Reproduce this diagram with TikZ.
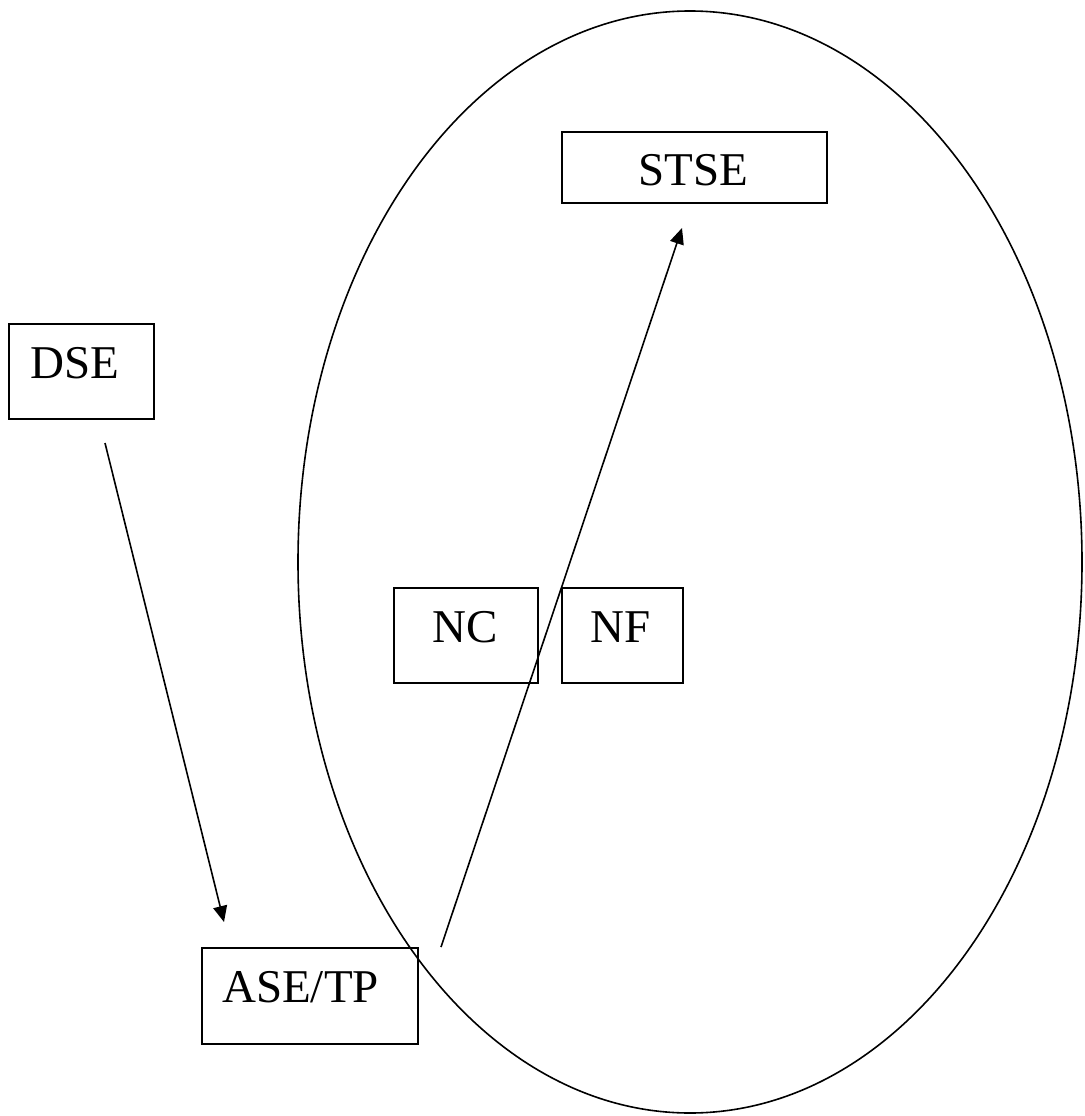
\documentclass[tikz,border=0pt]{standalone}
\usepackage{fontspec}
\setmainfont{Liberation Serif}
\usetikzlibrary{arrows.meta}
\tikzset{
  box/.style={draw, line width=2.2pt, rectangle, inner sep=0pt, anchor=north west},
  lbl/.style={inner sep=0pt, anchor=base west, font=\fontsize{47}{56}\selectfont},
  clbl/.style={inner sep=0pt, anchor=base, font=\fontsize{47}{56}\selectfont},
  conn/.style={line width=1.6pt, -{Triangle[length=16pt,width=14pt]}},
  oval/.style={line width=1.6pt}
}
\begin{document}
\begin{tikzpicture}[x=1pt,y=-1pt]
\useasboundingbox (0,0) rectangle (1084,1116);
\draw[oval] (690,562) ellipse [x radius=392pt, y radius=551pt];
% boxes
\node[box, minimum width=265pt, minimum height=71pt] (stse) at (561,131) {};
\node[clbl] at (693,185) {STSE};
\node[box, minimum width=145pt, minimum height=95pt] (dse) at (8,323) {};
\node[lbl] at (30,378) {DSE};
\node[box, minimum width=144pt, minimum height=95pt] (nc) at (393,587) {};
\node[clbl] at (465,642) {NC};
\node[box, minimum width=121pt, minimum height=95pt] (nf) at (561,587) {};
\node[clbl] at (621,642) {NF};
\node[box, minimum width=216pt, minimum height=96pt] (ase) at (201,947) {};
\node[lbl] at (222,1002) {ASE/TP};
% connector ends
\coordinate (dseout) at (105,443);
\coordinate (asein) at (224,922);
\coordinate (aseout) at (441,947);
\coordinate (stsein) at (682,228);
\draw[conn] (dseout) -- (asein);
\draw[conn] (aseout) -- (stsein);
\end{tikzpicture}
\end{document}
